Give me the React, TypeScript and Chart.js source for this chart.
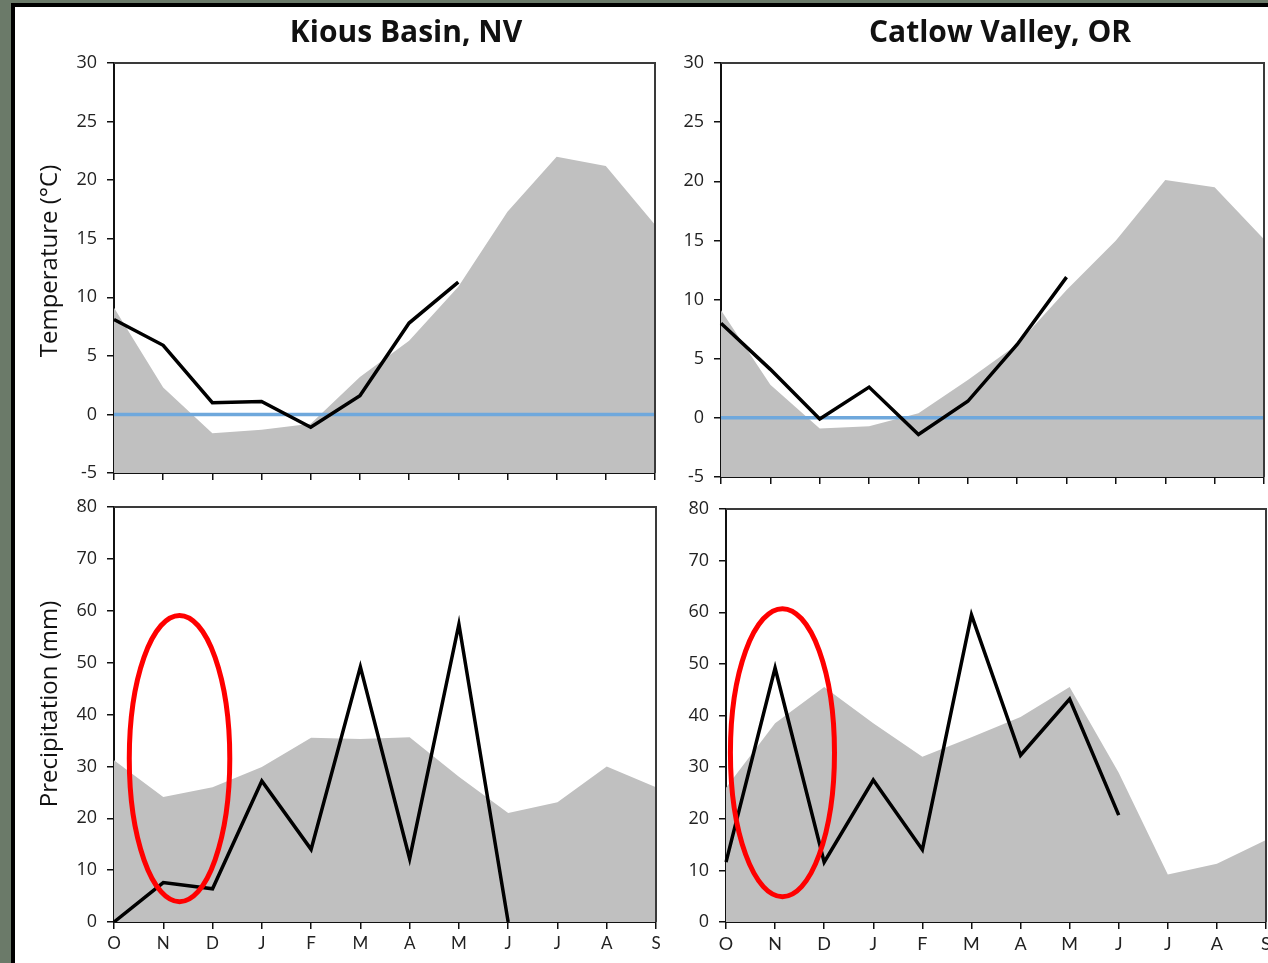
import React, { useEffect, useRef } from 'react';
import { Chart, registerables } from 'chart.js';

Chart.register(...registerables);

// Water-year months, October through September
const months = ['O', 'N', 'D', 'J', 'F', 'M', 'A', 'M', 'J', 'J', 'A', 'S'];

// Kious Basin, NV — long-term normals (grey) and the current water year (black)
const kiousTempNormal = [9.1, 2.3, -1.6, -1.3, -0.8, 3.2, 6.3, 10.9, 17.3, 22.0, 21.2, 16.2];
const kiousTempYear = [8.1, 5.9, 1.0, 1.1, -1.1, 1.6, 7.8, 11.3];
const kiousPrecipNormal = [31.2, 24.1, 26.0, 29.9, 35.5, 35.3, 35.6, 28.0, 21.0, 23.1, 30.0, 26.0];
const kiousPrecipYear = [0, 7.6, 6.4, 27.2, 14.0, 49.2, 12.2, 57.4, 0];

// Catlow Valley, OR
const catlowTempNormal = [9.1, 2.8, -0.9, -0.7, 0.4, 3.2, 6.2, 10.8, 15.0, 20.1, 19.5, 15.1];
const catlowTempYear = [8.0, 4.1, -0.1, 2.6, -1.4, 1.4, 6.2, 11.9];
const catlowPrecipNormal = [26.0, 38.5, 45.5, 38.5, 32.0, 35.8, 39.7, 45.5, 28.9, 9.2, 11.3, 15.9];
const catlowPrecipYear = [11.6, 49.2, 11.6, 27.5, 14.0, 59.5, 32.3, 43.2, 20.7];

// 0 °C reference line
const freezingLine = [0, 0, 0, 0, 0, 0, 0, 0, 0, 0, 0, 0];

// Axis ranges
const tempAxis = { min: -5, max: 30, step: 5 };
const precipAxis = { min: 0, max: 80, step: 10 };

// Highlighted early-winter precipitation (month index, mm, half-widths)
const kiousHighlight = { x: 1.33, y: 31.5, rx: 1.02, ry: 27.6 };
const catlowHighlight = { x: 1.15, y: 32.8, rx: 1.06, ry: 27.9 };

const W = 1268;
const H = 963;

type TextItem = { text: string; x: number; y: number; font: string; rotate?: boolean };
type Panel = {
  normal: number[];
  year: number[];
  freezing?: number[];
  axis: { min: number; max: number; step: number };
  padding: { left: number; right: number; top: number; bottom: number };
  yWidth: number;
  xHeight: number;
  xLabels: boolean;
  xFont: number;
  texts: TextItem[];
  ellipse?: { x: number; y: number; rx: number; ry: number };
};

const textPlugin = {
  id: 'panelTexts',
  afterDraw(chart: any, _args: any, opts: any) {
    const items: TextItem[] = opts?.items || [];
    const ctx = chart.ctx;
    items.forEach((t) => {
      ctx.save();
      ctx.font = t.font;
      ctx.fillStyle = '#111';
      ctx.textAlign = 'center';
      ctx.textBaseline = 'middle';
      ctx.translate(t.x, t.y);
      if (t.rotate) ctx.rotate(-Math.PI / 2);
      ctx.fillText(t.text, 0, 0);
      ctx.restore();
    });
  },
};

const framePlugin = {
  id: 'plotFrame',
  afterDatasetsDraw(chart: any) {
    const { ctx, chartArea } = chart;
    ctx.save();
    ctx.strokeStyle = '#3a3a3a';
    ctx.lineWidth = 2;
    ctx.beginPath();
    ctx.moveTo(chartArea.left, chartArea.top);
    ctx.lineTo(chartArea.right, chartArea.top);
    ctx.lineTo(chartArea.right, chartArea.bottom);
    ctx.stroke();
    ctx.restore();
  },
};

const ellipsePlugin = {
  id: 'highlightEllipse',
  afterDraw(chart: any, _args: any, opts: any) {
    const e = opts?.ellipse;
    if (!e) return;
    const xs = chart.scales.x;
    const ys = chart.scales.y;
    const cx = xs.getPixelForValue(e.x);
    const cy = ys.getPixelForValue(e.y);
    const rx = xs.getPixelForValue(e.x + e.rx) - cx;
    const ry = ys.getPixelForValue(e.y - e.ry) - cy;
    const ctx = chart.ctx;
    ctx.save();
    ctx.strokeStyle = '#ff0000';
    ctx.lineWidth = 5;
    ctx.beginPath();
    ctx.ellipse(cx, cy, rx, ry, 0, 0, Math.PI * 2);
    ctx.stroke();
    ctx.restore();
  },
};

function makeConfig(p: Panel): any {
  const datasets: any[] = [
    {
      data: p.year,
      borderColor: '#000',
      borderWidth: 3.5,
      borderJoinStyle: 'miter',
      pointRadius: 0,
      fill: false,
      tension: 0,
      order: 0,
    },
  ];
  if (p.freezing) {
    datasets.push({
      data: p.freezing,
      borderColor: '#6fa8dc',
      borderWidth: 3.5,
      pointRadius: 0,
      fill: false,
      order: 1,
    });
  }
  datasets.push({
    data: p.normal,
    borderColor: 'rgba(0,0,0,0)',
    borderWidth: 1,
    backgroundColor: '#c0c0c0',
    fill: 'start',
    pointRadius: 0,
    tension: 0,
    order: 2,
  });

  return {
    type: 'line',
    data: { labels: months, datasets },
    options: {
      responsive: false,
      animation: false,
      devicePixelRatio: 1,
      events: [],
      layout: { padding: p.padding },
      plugins: {
        legend: { display: false },
        tooltip: { enabled: false },
        title: { display: false },
        panelTexts: { items: p.texts },
        highlightEllipse: { ellipse: p.ellipse },
      },
      scales: {
        x: {
          type: 'category',
          offset: false,
          grid: {
            display: true,
            drawOnChartArea: false,
            drawTicks: true,
            tickLength: 7,
            color: '#111',
            lineWidth: 1.5,
          },
          border: { display: true, color: '#111', width: 2 },
          ticks: {
            display: p.xLabels,
            autoSkip: false,
            maxRotation: 0,
            padding: 4,
            color: '#222',
            font: { family: 'Lato', size: p.xFont },
          },
          afterFit: (s: any) => {
            s.height = p.xHeight;
            s.paddingLeft = 0;
            s.paddingRight = 0;
          },
        },
        y: {
          min: p.axis.min,
          max: p.axis.max,
          ticks: {
            stepSize: p.axis.step,
            padding: 10,
            color: '#222',
            font: { family: 'Open Sans', size: 18 },
          },
          grid: {
            display: true,
            drawOnChartArea: false,
            drawTicks: true,
            tickLength: 7,
            color: '#111',
            lineWidth: 1.5,
          },
          border: { display: true, color: '#111', width: 2 },
          afterFit: (s: any) => {
            s.width = p.yWidth;
            s.paddingTop = 0;
            s.paddingBottom = 0;
          },
        },
      },
    },
    plugins: [framePlugin, ellipsePlugin, textPlugin],
  };
}

const titleFont = 'bold 30px "Open Sans"';
const axisTitleFont = '24px "Open Sans"';

const panels: Panel[] = [
  {
    normal: kiousTempNormal,
    year: kiousTempYear,
    freezing: freezingLine,
    axis: tempAxis,
    padding: { left: 37, right: W - 655, top: 63, bottom: H - 473 - 10 },
    yWidth: 114 - 37,
    xHeight: 10,
    xLabels: false,
    xFont: 17,
    texts: [
      { text: 'Kious Basin, NV', x: 406, y: 33, font: titleFont },
      { text: 'Temperature (°C)', x: 50, y: 261, font: axisTitleFont, rotate: true },
    ],
  },
  {
    normal: kiousPrecipNormal,
    year: kiousPrecipYear,
    axis: precipAxis,
    padding: { left: 37, right: W - 656, top: 507, bottom: H - 922 - 32 },
    yWidth: 114 - 37,
    xHeight: 32,
    xLabels: true,
    xFont: 17,
    texts: [{ text: 'Precipitation (mm)', x: 50, y: 704, font: axisTitleFont, rotate: true }],
    ellipse: kiousHighlight,
  },
  {
    normal: catlowTempNormal,
    year: catlowTempYear,
    freezing: freezingLine,
    axis: tempAxis,
    padding: { left: 660, right: W - 1264, top: 63, bottom: H - 477 - 10 },
    yWidth: 721 - 660,
    xHeight: 10,
    xLabels: false,
    xFont: 17,
    texts: [{ text: 'Catlow Valley, OR', x: 1000, y: 33, font: titleFont }],
  },
  {
    normal: catlowPrecipNormal,
    year: catlowPrecipYear,
    axis: precipAxis,
    padding: { left: 660, right: W - 1266, top: 509, bottom: H - 922 - 32 },
    yWidth: 726 - 660,
    xHeight: 32,
    xLabels: true,
    xFont: 18,
    texts: [],
    ellipse: catlowHighlight,
  },
];

function PanelCanvas({ panel }: { panel: Panel }) {
  const ref = useRef<HTMLCanvasElement | null>(null);
  useEffect(() => {
    if (!ref.current) return;
    const chart = new Chart(ref.current, makeConfig(panel));
    return () => chart.destroy();
  }, [panel]);
  return (
    <canvas
      ref={ref}
      width={W}
      height={H}
      style={{ position: 'absolute', left: 0, top: 0, width: W, height: H }}
    />
  );
}

export default function App() {
  return (
    <div
      style={{
        position: 'absolute',
        left: 0,
        top: 0,
        width: W,
        height: H,
        overflow: 'hidden',
        background: '#ffffff',
      }}
    >
      {/* slide frame on the left and top edges */}
      <div style={{ position: 'absolute', left: 0, top: 0, width: 11, height: H, background: '#6b7a69' }} />
      <div style={{ position: 'absolute', left: 0, top: 0, width: W, height: 3, background: '#6b7a69' }} />
      <div style={{ position: 'absolute', left: 11, top: 3, width: 4, height: H, background: '#000' }} />
      <div style={{ position: 'absolute', left: 11, top: 3, width: W, height: 4, background: '#000' }} />
      {panels.map((p, i) => (
        <PanelCanvas key={i} panel={p} />
      ))}
    </div>
  );
}
